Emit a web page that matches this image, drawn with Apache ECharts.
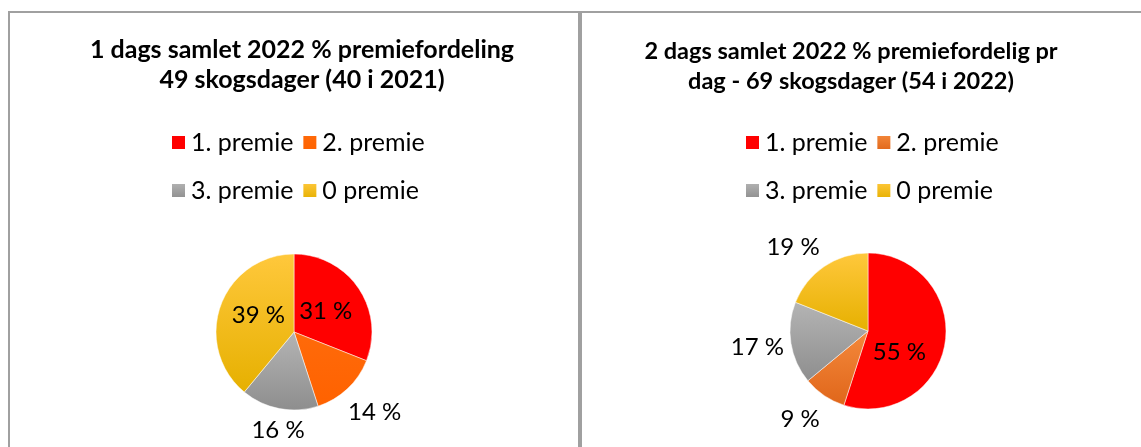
<!DOCTYPE html>
<html>
<head>
<meta charset="utf-8">
<title>Premiefordeling 2022</title>
<script src="https://cdn.jsdelivr.net/npm/echarts@6/dist/echarts.min.js"></script>
<style>
  html, body {
    margin: 0;
    padding: 0;
    background: #fff;
  }
  #chart {
    width: 1141px;
    height: 447px;
  }
</style>
</head>
<body>
<div id="chart"></div>
<script>
// kategorier og andeler (%)
const categories = ["1. premie", "2. premie", "3. premie", "0 premie"];
const oneDayShares = [31, 14, 16, 39];
const twoDayShares = [55, 9, 17, 19];
// hvilke etiketter som står inne i sektoren
const oneDayInside = [true, false, false, true];
const twoDayInside = [true, false, false, false];

const oneDayTitle = "1 dags samlet 2022 % premiefordeling\n49 skogsdager (40 i 2021)";
const twoDayTitle = "2 dags samlet 2022 % premiefordelig pr\ndag - 69 skogsdager (54 i 2022)";

const FONT = "Lato, 'Noto Sans', sans-serif";

// vertikal gradient som i Excel
function grad(top, bottom) {
  return new echarts.graphic.LinearGradient(0, 0, 0, 1, [
    { offset: 0, color: top },
    { offset: 1, color: bottom }
  ]);
}

const oneDayColors = [
  grad("#ff0000", "#ff0000"),
  grad("#ff6a0a", "#ff6200"),
  grad("#b4b4b4", "#8e8e8e"),
  grad("#ffc83c", "#e6b000")
];
const twoDayColors = [
  grad("#ff0000", "#ff0000"),
  grad("#f4893c", "#e0661a"),
  grad("#b4b4b4", "#8e8e8e"),
  grad("#ffc83c", "#e6b000")
];

// små flyttinger av etiketter (Excel "best fit"), [dx, dy]
const oneDayNudge = [[-3, 3], [4, -1], [5, -12], [4, -3]];
const twoDayNudge = [[-10, 15], [-5, -4], [0, -1], [-12, 9]];

function pieData(values, colors, inside, forOverlay) {
  return values.map((v, i) => ({
    name: categories[i],
    value: v,
    itemStyle: forOverlay ? { color: "rgba(0,0,0,0)" } : { color: colors[i] },
    label: { show: forOverlay ? !inside[i] : inside[i] }
  }));
}

function pieSeries(values, colors, inside, nudge, center) {
  const labelStyle = {
    position: "inside",
    color: "#000",
    fontFamily: FONT,
    fontSize: 24,
    formatter: p => p.value + " %"
  };
  const labelLayout = p => ({ dx: nudge[p.dataIndex][0], dy: nudge[p.dataIndex][1] });
  return [
    {
      type: "pie",
      center: center,
      radius: 78,
      startAngle: 90,
      clockwise: true,
      animation: false,
      emphasis: { disabled: true },
      label: labelStyle,
      labelLine: { show: false },
      labelLayout: labelLayout,
      itemStyle: { borderColor: "#fff", borderWidth: 0.5 },
      data: pieData(values, colors, inside, false)
    },
    {
      // gjennomsiktig ring som bærer etikettene utenfor sirkelen
      type: "pie",
      center: center,
      radius: [78, 140],
      startAngle: 90,
      clockwise: true,
      silent: true,
      animation: false,
      emphasis: { disabled: true },
      label: labelStyle,
      labelLine: { show: false },
      labelLayout: labelLayout,
      data: pieData(values, colors, inside, true)
    }
  ];
}

function legendRow(names, colors, left, top) {
  return {
    left: left,
    top: top,
    padding: 0,
    orient: "horizontal",
    itemWidth: 15,
    itemHeight: 15,
    itemGap: 8,
    icon: "rect",
    selectedMode: false,
    textStyle: { fontFamily: FONT, fontSize: 25, color: "#000" },
    data: names.map(n => ({ name: n, itemStyle: { color: colors[categories.indexOf(n)] } }))
  };
}

const chart = echarts.init(document.getElementById("chart"));

function titleStyle(size) {
  return {
    fontFamily: FONT,
    fontSize: size,
    fontWeight: "bold",
    color: "#000",
    lineHeight: 30
  };
}

chart.setOption({
  backgroundColor: "#fff",
  title: [
    { text: oneDayTitle, left: 302, top: 35, padding: 0, textAlign: "center", textStyle: titleStyle(25) },
    { text: twoDayTitle, left: 851, top: 36, padding: 0, textAlign: "center", textStyle: titleStyle(23.5) }
  ],
  legend: [
    legendRow(["1. premie", "2. premie"], oneDayColors, 170, 130),
    legendRow(["3. premie", "0 premie"], oneDayColors, 170, 178),
    legendRow(["1. premie", "2. premie"], twoDayColors, 744, 130),
    legendRow(["3. premie", "0 premie"], twoDayColors, 744, 178)
  ],
  graphic: [
    // rammer rundt de to diagrammene
    {
      type: "rect",
      shape: { x: 9, y: 12, width: 570, height: 460 },
      style: { fill: "none", stroke: "#a0a0a0", lineWidth: 2 },
      silent: true
    },
    {
      type: "rect",
      shape: { x: 581, y: 12, width: 600, height: 460 },
      style: { fill: "none", stroke: "#a0a0a0", lineWidth: 2 },
      silent: true
    }
  ],
  series: [
    ...pieSeries(oneDayShares, oneDayColors, oneDayInside, oneDayNudge, [294, 332]),
    ...pieSeries(twoDayShares, twoDayColors, twoDayInside, twoDayNudge, [868, 331])
  ]
});
</script>
</body>
</html>
